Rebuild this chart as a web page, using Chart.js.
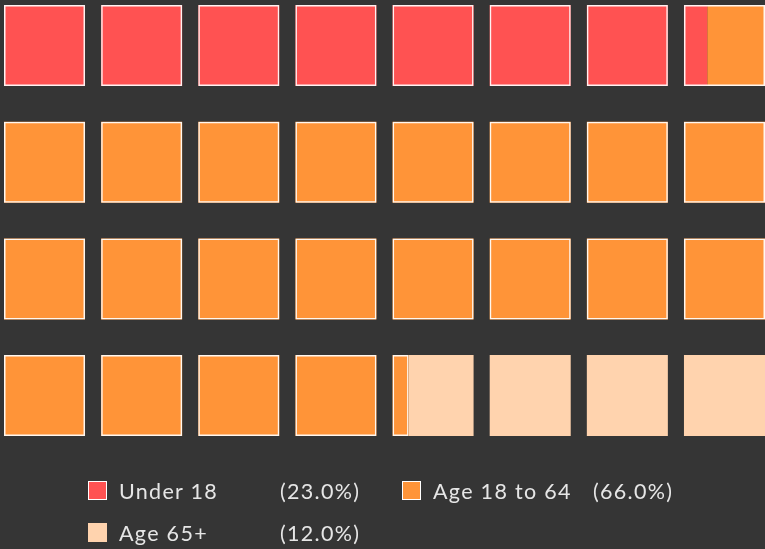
<!DOCTYPE html>
<html>
<head>
<meta charset="utf-8">
<script src="https://cdn.jsdelivr.net/npm/chart.js@4"></script>
<style>
  html, body { margin: 0; padding: 0; background: #353535; }
  #wrap { position: relative; width: 765px; height: 549px; overflow: hidden; }
  #c { position: absolute; left: 0; top: 0; }
  .lg { position: absolute; font-family: Lato, "Open Sans", sans-serif; font-size: 21.5px; letter-spacing: 1.3px; color: #e6e6e6; white-space: nowrap; line-height: 24px; }
  .box { position: absolute; width: 17px; height: 17px; box-sizing: content-box; }
</style>
</head>
<body>
<div id="wrap">
  <canvas id="c" width="765" height="549"></canvas>
</div>
<script>
// ---- data ----
const categories = ['Under 18', 'Age 18 to 64', 'Age 65+'];
const percentages = [23.0, 66.0, 12.0];
const percentLabels = ['(23.0%)', '(66.0%)', '(12.0%)'];
const rowLabels = ['r1', 'r2', 'r3', 'r4'];
const columnsPerRow = 8;
const seriesColors = ['#ff5252', '#ff9438', '#ffd3ae'];
const outlinedSeries = [true, true, false];

// ---- build cells from data ----
const cellCount = rowLabels.length * columnsPerRow;
const total = percentages.reduce((a, b) => a + b, 0);
const cellFrac = 81 / 97.1; // drawn width of a cell within one column unit
const cum = [0];
percentages.forEach((p, i) => cum.push(cum[i] + p / total * cellCount));

const datasets = [];
// outline around the outlined part of each cell (drawn on top)
const outline = [];
for (let k = 0; k < cellCount; k++) {
  const col = k % columnsPerRow, row = Math.floor(k / columnsPerRow);
  let lo = Infinity, hi = -Infinity;
  categories.forEach((n, s) => {
    if (!outlinedSeries[s]) return;
    const l = Math.max(cum[s], k), h = Math.min(cum[s + 1], k + 1);
    if (h - l > 1e-9) { lo = Math.min(lo, l); hi = Math.max(hi, h); }
  });
  if (hi > lo) outline.push({ y: rowLabels[row], x: [col + (lo - k) * cellFrac, col + (hi - k) * cellFrac] });
}
datasets.push({
  label: 'outline', data: outline, backgroundColor: 'rgba(0,0,0,0)',
  borderColor: 'rgba(255,255,255,0.92)', borderWidth: 1.5, borderSkipped: false,
  grouped: false, clip: false, inflateAmount: 0
});
categories.forEach((name, s) => {
  const a = cum[s], b = cum[s + 1];
  const pts = [];
  for (let k = 0; k < cellCount; k++) {
    const lo = Math.max(a, k), hi = Math.min(b, k + 1);
    if (hi - lo <= 1e-9) continue;
    const col = k % columnsPerRow, row = Math.floor(k / columnsPerRow);
    pts.push({ y: rowLabels[row], x: [col + (lo - k) * cellFrac, col + (hi - k) * cellFrac] });
  }
  datasets.push({
    label: name, data: pts, backgroundColor: seriesColors[s], borderWidth: 0,
    borderSkipped: false, grouped: false, clip: false
  });
});

new Chart(document.getElementById('c'), {
  type: 'bar',
  data: { labels: rowLabels, datasets },
  options: {
    indexAxis: 'y',
    responsive: false,
    animation: false,
    layout: { padding: { left: 4, right: 0, top: 45.5, bottom: 153.4 } },
    datasets: { bar: { categoryPercentage: 1, barPercentage: 81 / 116.7 } },
    scales: {
      x: { type: 'linear', min: 0, max: columnsPerRow - 1 + cellFrac, display: false },
      y: { type: 'category', offset: false, display: false }
    },
    plugins: { legend: { display: false }, tooltip: { enabled: false } }
  }
});

// ---- HTML legend ----
const wrap = document.getElementById('wrap');
const legendPos = [
  { bx: 88, by: 481, tx: 119, px: 280, ty: 479 },
  { bx: 402, by: 481, tx: 433, px: 593, ty: 479 },
  { bx: 88, by: 523, tx: 119, px: 280, ty: 521 }
];
categories.forEach((name, i) => {
  const p = legendPos[i];
  const box = document.createElement('div');
  box.className = 'box';
  box.style.left = p.bx + 'px'; box.style.top = p.by + 'px';
  box.style.background = seriesColors[i];
  box.style.border = outlinedSeries[i] ? '1.5px solid #ffffff' : '1.5px solid ' + seriesColors[i];
  wrap.appendChild(box);
  const t = document.createElement('div');
  t.className = 'lg'; t.textContent = name;
  t.style.left = p.tx + 'px'; t.style.top = p.ty + 'px';
  wrap.appendChild(t);
  const q = document.createElement('div');
  q.className = 'lg'; q.textContent = percentLabels[i];
  q.style.left = p.px + 'px'; q.style.top = p.ty + 'px';
  wrap.appendChild(q);
});
</script>
</body>
</html>
